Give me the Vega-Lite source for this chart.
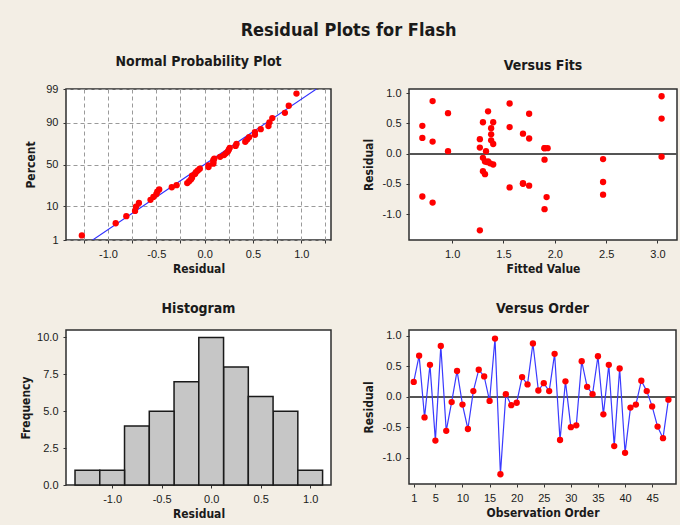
{
  "$schema": "https://vega.github.io/schema/vega-lite/v6.json",
  "background": "#f3eee5",
  "padding": {"left": 18, "top": 22, "right": 4, "bottom": 5},
  "title": {"text": "Residual Plots for Flash", "fontSize": 18, "font": "Liberation Sans Narrow, DejaVu Sans Condensed, Liberation Sans", "fontWeight": "bold", "color": "#1a1a1a", "anchor": "middle", "offset": 14},
  "config": {
    "view": {"stroke": "#2e2e2e", "strokeWidth": 1.5, "fill": "white"},
    "axis": {"labelFont": "Liberation Sans", "labelFontSize": 11, "labelColor": "#1a1a1a", "titleFont": "Liberation Sans Narrow, DejaVu Sans Condensed, Liberation Sans", "titleFontSize": 12, "titleFontWeight": "bold", "titleColor": "#1a1a1a", "tickSize": 3, "tickColor": "#333", "domain": false, "grid": false, "labelPadding": 5, "titlePadding": 4, "labelOverlap": false},
    "title": {"font": "Liberation Sans Narrow, DejaVu Sans Condensed, Liberation Sans", "fontSize": 14, "fontWeight": "bold", "color": "#1a1a1a", "offset": 14}
  },
  "datasets": {
    "res": [
      {"obs": 1, "fit": 1.27, "resid": 0.24, "z": 0.399},
      {"obs": 2, "fit": 0.96, "resid": 0.67, "z": 1.298},
      {"obs": 3, "fit": 1.32, "resid": -0.34, "z": -0.701},
      {"obs": 4, "fit": 1.30, "resid": 0.52, "z": 0.916},
      {"obs": 5, "fit": 1.92, "resid": -0.72, "z": -1.429},
      {"obs": 6, "fit": 1.56, "resid": 0.83, "z": 1.591},
      {"obs": 7, "fit": 1.56, "resid": -0.56, "z": -1.088},
      {"obs": 8, "fit": 2.47, "resid": -0.09, "z": -0.235},
      {"obs": 9, "fit": 1.38, "resid": 0.42, "z": 0.701},
      {"obs": 10, "fit": 1.32, "resid": -0.13, "z": -0.399},
      {"obs": 11, "fit": 1.75, "resid": -0.53, "z": -0.998},
      {"obs": 12, "fit": 1.90, "resid": 0.09, "z": 0.026},
      {"obs": 13, "fit": 1.56, "resid": 0.44, "z": 0.768},
      {"obs": 14, "fit": 1.69, "resid": 0.33, "z": 0.636},
      {"obs": 15, "fit": 1.30, "resid": -0.07, "z": -0.182},
      {"obs": 16, "fit": 3.04, "resid": 0.95, "z": 2.184},
      {"obs": 17, "fit": 1.27, "resid": -1.27, "z": -2.184},
      {"obs": 18, "fit": 0.96, "resid": 0.04, "z": -0.078},
      {"obs": 19, "fit": 1.34, "resid": -0.14, "z": -0.455},
      {"obs": 20, "fit": 1.90, "resid": -0.10, "z": -0.289},
      {"obs": 21, "fit": 1.38, "resid": 0.32, "z": 0.573},
      {"obs": 22, "fit": 0.81, "resid": 0.20, "z": 0.289},
      {"obs": 23, "fit": 0.81, "resid": 0.87, "z": 1.810},
      {"obs": 24, "fit": 1.27, "resid": 0.10, "z": 0.182},
      {"obs": 25, "fit": 1.38, "resid": 0.22, "z": 0.343},
      {"obs": 26, "fit": 1.93, "resid": 0.09, "z": 0.078},
      {"obs": 27, "fit": 1.35, "resid": 0.70, "z": 1.429},
      {"obs": 28, "fit": 0.71, "resid": -0.71, "z": -1.298},
      {"obs": 29, "fit": 1.75, "resid": 0.25, "z": 0.455},
      {"obs": 30, "fit": 1.69, "resid": -0.50, "z": -0.916},
      {"obs": 31, "fit": 2.47, "resid": -0.47, "z": -0.768},
      {"obs": 32, "fit": 3.04, "resid": 0.58, "z": 1.088},
      {"obs": 33, "fit": 1.40, "resid": 0.16, "z": 0.235},
      {"obs": 34, "fit": 1.33, "resid": 0.04, "z": -0.026},
      {"obs": 35, "fit": 1.75, "resid": 0.66, "z": 1.186},
      {"obs": 36, "fit": 1.30, "resid": -0.29, "z": -0.636},
      {"obs": 37, "fit": 1.40, "resid": 0.52, "z": 0.998},
      {"obs": 38, "fit": 0.81, "resid": -0.81, "z": -1.591},
      {"obs": 39, "fit": 0.71, "resid": 0.46, "z": 0.840},
      {"obs": 40, "fit": 1.90, "resid": -0.92, "z": -1.810},
      {"obs": 41, "fit": 1.40, "resid": -0.18, "z": -0.573},
      {"obs": 42, "fit": 1.35, "resid": -0.13, "z": -0.343},
      {"obs": 43, "fit": 0.71, "resid": 0.26, "z": 0.513},
      {"obs": 44, "fit": 1.90, "resid": 0.09, "z": 0.130},
      {"obs": 45, "fit": 1.37, "resid": -0.16, "z": -0.513},
      {"obs": 46, "fit": 1.69, "resid": -0.49, "z": -0.840},
      {"obs": 47, "fit": 2.47, "resid": -0.68, "z": -1.186},
      {"obs": 48, "fit": 3.04, "resid": -0.05, "z": -0.130}
    ],
    "line": [
      {"resid": -1.158, "z": -2.326},
      {"resid": 1.156, "z": 2.326}
    ]
  },
  "columns": 2,
  "bounds": "flush",
  "spacing": {"row": 90, "column": 78},
  "concat": [
    {
      "width": 265, "height": 151,
      "title": {"text": "Normal Probability Plot"},
      "encoding": {
        "x": {"field": "resid", "type": "quantitative", "scale": {"domain": [-1.434, 1.307], "nice": false, "zero": false},
          "axis": {"title": "Residual", "labelOverlap": false, "values": [-1.25, -1, -0.75, -0.5, -0.25, 0, 0.25, 0.5, 0.75, 1, 1.25], "grid": true, "gridDash": [4, 3], "gridColor": "#9a9a9a", "gridWidth": 1,
            "labelExpr": "(datum.value == -1 || datum.value == -0.5 || datum.value == 0 || datum.value == 0.5 || datum.value == 1) ? (datum.value < 0 ? '-' : '') + format(abs(datum.value), '.1f') : ''"}},
        "y": {"field": "z", "type": "quantitative", "scale": {"domain": [-2.326, 2.326], "nice": false, "zero": false},
          "axis": {"title": "Percent", "titlePadding": 8, "labelOverlap": false, "values": [-2.326, -1.2816, 0, 1.2816, 2.326], "grid": true, "gridDash": [4, 3], "gridColor": "#9a9a9a",
            "labelExpr": "datum.value < -2 ? '1' : datum.value < -1 ? '10' : datum.value < 1 ? '50' : datum.value < 2 ? '90' : '99'"}}
      },
      "layer": [
        {
          "data": {"name": "line"},
          "mark": {"type": "line", "color": "#2f2fff", "strokeWidth": 1.1, "clip": true}
        },
        {
          "data": {"name": "res"},
          "mark": {"type": "circle", "color": "#ff0000", "size": 40, "opacity": 1}
        }
      ]
    },
    {
      "width": 268, "height": 151,
      "title": {"text": "Versus Fits"},
      "data": {"name": "res"},
      "encoding": {
        "x": {"field": "fit", "type": "quantitative", "scale": {"domain": [0.58, 3.19], "nice": false, "zero": false},
          "axis": {"title": "Fitted Value", "labelOverlap": false, "values": [1, 1.5, 2, 2.5, 3], "format": ".1f"}},
        "y": {"field": "resid", "type": "quantitative", "scale": {"domain": [-1.43, 1.07], "nice": false, "zero": false},
          "axis": {"title": "Residual", "titlePadding": 7, "labelOverlap": false, "values": [-1, -0.5, 0, 0.5, 1],
            "labelExpr": "(datum.value < 0 ? '-' : '') + format(abs(datum.value), '.1f')"}}
      },
      "layer": [
        {
          "mark": {"type": "rule", "color": "#555555", "strokeWidth": 1.3},
          "encoding": {"x": null, "y": {"datum": 0, "type": "quantitative"}}
        },
        {
          "mark": {"type": "circle", "color": "#ff0000", "size": 40, "opacity": 1}
        }
      ]
    },
    {
      "width": 265, "height": 155,
      "title": {"text": "Histogram"},
      "data": {"name": "res"},
      "transform": [
        {"bin": {"extent": [-1.375, 1.375], "step": 0.25, "nice": false}, "field": "resid", "as": ["b0", "b1"]},
        {"aggregate": [{"op": "count", "as": "freq"}], "groupby": ["b0", "b1"]}
      ],
      "mark": {"type": "bar", "fill": "#c6c6c6", "stroke": "#1a1a1a", "strokeWidth": 1.5},
      "encoding": {
        "x": {"field": "b0", "type": "quantitative", "scale": {"domain": [-1.466, 1.21], "nice": false, "zero": false},
          "axis": {"title": "Residual", "labelOverlap": false, "values": [-1, -0.5, 0, 0.5, 1],
            "labelExpr": "(datum.value < 0 ? '-' : '') + format(abs(datum.value), '.1f')"}},
        "x2": {"field": "b1"},
        "y": {"field": "freq", "type": "quantitative", "scale": {"domain": [0, 10.5], "nice": false},
          "axis": {"title": "Frequency", "titlePadding": 4, "labelOverlap": false, "values": [0, 2.5, 5, 7.5, 10], "format": ".1f"}},
        "y2": {"datum": 0}
      }
    },
    {
      "width": 267, "height": 154,
      "title": {"text": "Versus Order"},
      "data": {"name": "res"},
      "encoding": {
        "x": {"field": "obs", "type": "quantitative", "scale": {"domain": [0.13, 49.4], "nice": false, "zero": false},
          "axis": {"title": "Observation Order", "labelOverlap": false, "values": [1, 5, 10, 15, 20, 25, 30, 35, 40, 45]}},
        "y": {"field": "resid", "type": "quantitative", "scale": {"domain": [-1.43, 1.09], "nice": false, "zero": false},
          "axis": {"title": "Residual", "titlePadding": 7, "labelOverlap": false, "values": [-1, -0.5, 0, 0.5, 1],
            "labelExpr": "(datum.value < 0 ? '-' : '') + format(abs(datum.value), '.1f')"}}
      },
      "layer": [
        {
          "mark": {"type": "rule", "color": "#555555", "strokeWidth": 1.3},
          "encoding": {"x": null, "y": {"datum": 0, "type": "quantitative"}}
        },
        {
          "mark": {"type": "line", "color": "#3a3aff", "strokeWidth": 1.2}
        },
        {
          "mark": {"type": "circle", "color": "#ff0000", "size": 40, "opacity": 1}
        }
      ]
    }
  ]
}
